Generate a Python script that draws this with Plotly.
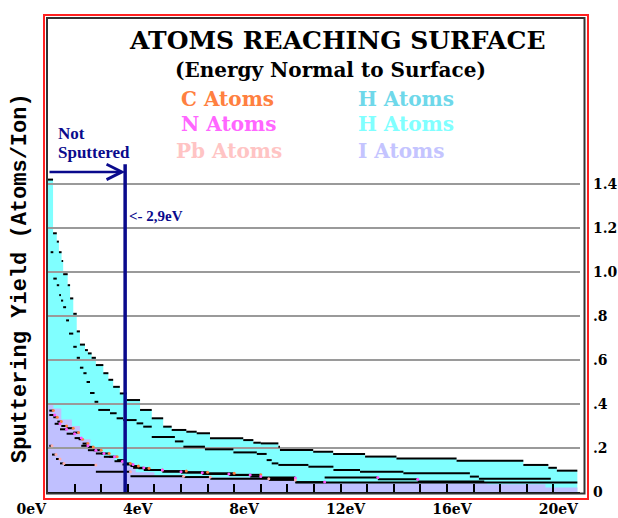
import plotly.graph_objects as go

# ---------------------------------------------------------------- data ----
energy_ticks = [0, 4, 8, 12, 16, 20]
energy_tick_labels = ["0eV", "4eV", "8eV", "12eV", "16eV", "20eV"]
yield_ticks = [0, 0.2, 0.4, 0.6, 0.8, 1.0, 1.2, 1.4]
yield_tick_labels = ["0", ".2", ".4", ".6", ".8", "1.0", "1.2", "1.4"]

threshold_ev = 2.9          # sputtering threshold
arrow_level = 1.455         # height of the "not sputtered" arrow
threshold_top = 1.49

# Each curve is a staircase: value y[i] holds from ev[i] up to ev[i+1].
h1_ev = [0, 0.19, 0.33, 0.41, 0.51, 0.57, 0.74, 0.83, 0.95, 1.08, 1.2, 1.39,
         1.5, 1.64, 1.8, 2.08, 2.27, 2.45, 2.7, 2.96, 3.46, 3.9, 4.33, 4.65,
         5.2, 5.59, 6.09, 7.34, 7.72, 8.0, 8.66, 8.72, 9.97, 10.72, 11.92,
         13.1, 15.36, 17.87, 18.81, 19.13, 19.9]
h1_yield = [1.42, 1.176, 1.138, 1.09, 1.05, 0.99, 0.94, 0.88, 0.81, 0.73,
            0.67, 0.645, 0.63, 0.61, 0.577, 0.54, 0.51, 0.478, 0.448, 0.418,
            0.373, 0.335, 0.297, 0.282, 0.274, 0.267, 0.244, 0.236, 0.224,
            0.221, 0.206, 0.191, 0.183, 0.173, 0.161, 0.152, 0.142, 0.123,
            0.11, 0.097, 0.097]

h2_ev = [0.1, 0.2, 0.33, 0.42, 0.49, 0.57, 0.68, 0.79, 0.95, 1.08, 1.2, 1.33,
         1.45, 1.58, 1.75, 1.89, 2.33, 2.58, 2.83, 3.33, 3.58, 3.9, 4.77,
         5.09, 5.9, 6.97, 7.85, 8.22, 8.41, 8.66, 9.79, 10.73, 11.73, 13.36,
         15.86, 16.2, 18.9]
h2_yield = [1.09, 0.97, 0.94, 0.895, 0.87, 0.84, 0.78, 0.72, 0.66, 0.61,
            0.565, 0.54, 0.50, 0.45, 0.41, 0.373, 0.358, 0.335, 0.327, 0.312,
            0.297, 0.25, 0.23, 0.206, 0.194, 0.18, 0.173, 0.145, 0.13, 0.123,
            0.115, 0.10, 0.092, 0.085, 0.07, 0.06, 0.06]

c_ev = [0.05, 0.2, 0.35, 0.5, 0.7, 0.95, 1.15, 1.3, 1.5, 1.7, 2.0, 2.3, 2.6,
        2.9, 3.1, 3.4, 3.8, 4.3, 5.2, 6.0, 7.0, 8.0, 9.3]
c_yield = [0.37, 0.34, 0.32, 0.30, 0.29, 0.27, 0.24, 0.22, 0.205, 0.19,
           0.175, 0.16, 0.145, 0.13, 0.118, 0.108, 0.10, 0.095, 0.09, 0.085,
           0.078, 0.066, 0.066]

n_ev = [0.05, 0.25, 0.45, 0.7, 1.0, 1.25, 1.5, 1.8, 2.1, 2.5, 2.8, 3.2, 3.6,
        4.3, 5.0, 5.8, 6.8, 7.6, 8.0, 9.3, 10.4, 12.4, 13.9, 16.4]
n_yield = [0.35, 0.31, 0.285, 0.265, 0.245, 0.21, 0.19, 0.175, 0.16, 0.14,
           0.125, 0.11, 0.10, 0.092, 0.088, 0.082, 0.077, 0.07, 0.064, 0.045,
           0.066, 0.058, 0.048, 0.048]

pb_ev = [0.05, 0.15, 0.3, 0.45, 0.6, 1.8, 3.1, 5.1, 6.1, 8.3, 9.3, 19.9]
pb_yield = [0.21, 0.17, 0.15, 0.13, 0.123, 0.092, 0.072, 0.068, 0.06, 0.055,
            0.043, 0.043]

i_ev = [0, 0.2, 0.5, 0.9, 1.2, 1.6, 2.0, 2.5, 2.9, 3.3, 4.0, 5.0, 6.0, 8.0,
        9.3, 16.5, 18.7, 19.9]
i_yield = [0.40, 0.38, 0.33, 0.30, 0.24, 0.19, 0.165, 0.14, 0.12, 0.09,
           0.075, 0.068, 0.066, 0.062, 0.04, 0.035, 0.02, 0.02]

# ------------------------------------------------------------- colours ----
CYAN = "#80FFFF"
LAVENDER = "#C0C0FF"
NAVY = "#0A0A8C"
SERIF = "DejaVu Serif"

# ---------------------------------------------------------- page geometry -
W, H = 618, 518
PL, PR, PT, PB = 48, 580, 162, 492


def px_x(px):
    return (px - PL) / (PR - PL)


def px_y(py):
    return (PB - py) / (PB - PT)


def treads(xs, ys):
    """Horizontal step segments only (no risers), separated by gaps."""
    sx, sy = [], []
    for i in range(len(xs) - 1):
        sx += [xs[i], xs[i + 1], None]
        sy += [ys[i], ys[i], None]
    return sx, sy


def bold(labels):
    return ["<b>%s</b>" % t for t in labels]


fig = go.Figure()

# filled areas
fig.add_trace(go.Scatter(x=h1_ev, y=h1_yield, mode="lines", line_shape="hv",
                         line=dict(width=0, color=CYAN), fill="tozeroy",
                         fillcolor=CYAN, hoverinfo="skip"))
fig.add_trace(go.Scatter(x=i_ev, y=i_yield, mode="lines", line_shape="hv",
                         line=dict(width=0, color=LAVENDER), fill="tozeroy",
                         fillcolor=LAVENDER, hoverinfo="skip"))

# horizontal grid drawn over the fills
gx, gy = [], []
for v in yield_ticks[1:]:
    gx += [0, 20, None]
    gy += [v, v, None]
fig.add_trace(go.Scatter(x=gx, y=gy, mode="lines", cliponaxis=False,
                         line=dict(color="#9A9A9A", width=2), hoverinfo="skip"))

# stepped curves
for xs, ys in [(h1_ev, h1_yield), (h2_ev, h2_yield), (c_ev, c_yield),
               (n_ev, n_yield), (pb_ev, pb_yield)]:
    sx, sy = treads(xs, ys)
    fig.add_trace(go.Scatter(x=sx, y=sy, mode="lines",
                             line=dict(color="black", width=2),
                             hoverinfo="skip"))

# coloured corner dots
for xs, ys, col in [(c_ev, c_yield, "#FF8040"), (n_ev, n_yield, "#FF55FF"),
                    (pb_ev, pb_yield, "#FFB0B0")]:
    fig.add_trace(go.Scatter(x=xs[1:-1], y=ys[:-2], mode="markers",
                             marker=dict(color=col, size=3),
                             hoverinfo="skip"))

# threshold marker
fig.add_shape(type="line", xref="x", yref="y", x0=threshold_ev,
              x1=threshold_ev, y0=0, y1=threshold_top,
              line=dict(color=NAVY, width=3.5))

# frames
fig.add_shape(type="rect", xref="paper", yref="paper",
              x0=px_x(44), x1=px_x(588), y0=px_y(499), y1=px_y(15),
              line=dict(color="#FF2020", width=2))
fig.add_shape(type="rect", xref="paper", yref="paper",
              x0=px_x(47), x1=px_x(584.5), y0=px_y(493.5), y1=px_y(18),
              line=dict(color="#333333", width=2))

ann = []
ann.append(dict(text="<b>ATOMS REACHING SURFACE</b>", x=px_x(337), y=px_y(40),
                font=dict(family=SERIF, size=25, color="black")))
ann.append(dict(text="<b>(Energy Normal to Surface)</b>", x=px_x(330),
                y=px_y(70), font=dict(family=SERIF, size=20, color="black")))
for text, left, top, col in [("C Atoms", 179, 99, "#FF8040"),
                             ("N Atoms", 179, 124, "#FF66FF"),
                             ("Pb Atoms", 174, 151, "#FFC4C4"),
                             ("H Atoms", 356, 99, "#6ED8EA"),
                             ("H Atoms", 356, 124, "#80FFFF"),
                             ("I Atoms", 356, 151, "#C4C4FF")]:
    ann.append(dict(text="<b>%s</b>" % text, x=px_x(left), y=px_y(top),
                    xanchor="left",
                    font=dict(family=SERIF, size=20, color=col)))
ann.append(dict(text="<b>Not</b>", x=px_x(56), y=px_y(133), xanchor="left",
                font=dict(family="Liberation Serif", size=17, color=NAVY)))
ann.append(dict(text="<b>Sputtered</b>", x=px_x(56), y=px_y(153),
                xanchor="left",
                font=dict(family="Liberation Serif", size=17, color=NAVY)))
ann.append(dict(text="<b>&lt;- 2,9eV</b>", x=threshold_ev, xref="x",
                y=px_y(216), xanchor="left", xshift=2,
                font=dict(family="Liberation Serif", size=15, color=NAVY)))
ann.append(dict(text="<b>Sputtering Yield (Atoms/Ion)</b>", x=px_x(20),
                y=px_y(278), textangle=-90,
                font=dict(family="Liberation Mono", size=22, color="black")))
for a in ann:
    a.setdefault("xref", "paper")
    a.setdefault("yref", "paper")
    a.setdefault("yanchor", "middle")
    a.setdefault("xanchor", "center")
    a["showarrow"] = False

# "not sputtered" arrow
ann.append(dict(x=threshold_ev, y=arrow_level, ax=0, ay=arrow_level,
                xref="x", yref="y", axref="x", ayref="y", text="",
                showarrow=True, arrowhead=5, arrowsize=1.2, arrowwidth=2.5,
                arrowcolor=NAVY))

fig.update_layout(
    width=W, height=H,
    margin=dict(l=PL, r=W - PR, t=PT, b=H - PB, autoexpand=False),
    paper_bgcolor="white", plot_bgcolor="white",
    showlegend=False,
    annotations=ann,
    xaxis=dict(range=[0, 20], tickvals=energy_ticks,
               ticktext=bold(energy_tick_labels), ticks="inside", ticklen=8,
               tickwidth=2, tickcolor="black", showgrid=False, zeroline=False,
               showline=True, linecolor="black", linewidth=2,
               automargin=False,
               ticklabelposition="outside left", ticklabelstandoff=3,
               minor=dict(dtick=1, tick0=0, ticks="inside", ticklen=8,
                          tickwidth=2, tickcolor="black", showgrid=False),
               tickfont=dict(family=SERIF, size=14, color="black")),
    yaxis=dict(range=[0, 1.5], side="right", tickvals=yield_ticks,
               ticktext=bold(yield_tick_labels), showgrid=False,
               zeroline=False, showline=False, ticks="", automargin=False,
               ticklabelstandoff=12,
               tickfont=dict(family=SERIF, size=14, color="black")),
)

fig.write_html("out.html")
